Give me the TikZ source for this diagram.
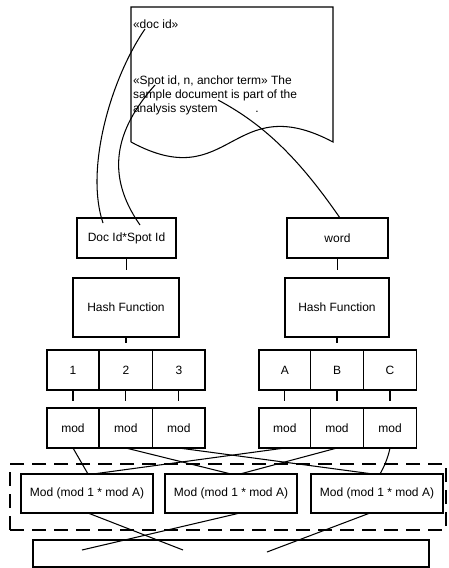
\documentclass[tikz,border=0pt]{standalone}
\usepackage{fontspec}
\setmainfont{Liberation Sans}
\begin{document}
\begin{tikzpicture}[x=1pt,y=-1pt,line width=1.05pt,
  every node/.style={font=\fontsize{12}{14}\selectfont, inner sep=0pt, outer sep=0pt},
  box/.style={draw, rectangle},
  cell/.style={draw, rectangle, minimum height=40pt},
  combo/.style={draw, rectangle, minimum width=132pt, minimum height=39pt},
  frame/.style={draw, rectangle, dash pattern=on 14pt off 8pt}]
\useasboundingbox (0,0) rectangle (449,568);

% source document with wavy lower edge
\draw (131,142) -- (131,7) -- (333,7) -- (333,142)
      .. controls (231,88) and (231,196) .. (131,142);
\node[anchor=base west] (tdoc) at (133,28) {«doc id»};
\node[anchor=north west, align=left] (tspot) at (133,76)
  {«Spot id, n, anchor term» The\\sample document is part of the\\analysis system};
\node[anchor=base] (tdot) at (257,112) {.};

% keys
\node[box, minimum width=99pt, minimum height=40pt] (dockey) at (126.5,238) {Doc Id*Spot Id};
\node[box, minimum width=101pt, minimum height=40pt] (word) at (337.5,238) {word};

% hash functions
\node[box, minimum width=106pt, minimum height=59pt] (hashL) at (126,307.5) {Hash Function};
\node[box, minimum width=104pt, minimum height=59pt] (hashR) at (337,307.5) {Hash Function};

% hash outputs
\node[cell, minimum width=52pt]   (n1) at (73,370)     {1};
\node[cell, minimum width=53.7pt] (n2) at (125.85,370) {2};
\node[cell, minimum width=52.3pt] (n3) at (178.85,370) {3};
\node[cell, minimum width=51.7pt] (nA) at (284.85,370) {A};
\node[cell, minimum width=52.6pt] (nB) at (337,370)    {B};
\node[cell, minimum width=53.4pt] (nC) at (390,370)    {C};

% modulo cells
\node[cell, minimum width=52pt]   (m1) at (73,428)     {mod};
\node[cell, minimum width=53.7pt] (m2) at (125.85,428) {mod};
\node[cell, minimum width=52.3pt] (m3) at (178.85,428) {mod};
\node[cell, minimum width=51.7pt] (mA) at (284.85,428) {mod};
\node[cell, minimum width=52.6pt] (mB) at (337,428)    {mod};
\node[cell, minimum width=53.4pt] (mC) at (390,428)    {mod};

% combined group
\node[frame, minimum width=436pt, minimum height=66pt] (grp) at (228,497) {};
\node[combo] (M1) at (87,493.5)  {Mod (mod 1 * mod A)};
\node[combo] (M2) at (231,493.5) {Mod (mod 1 * mod A)};
\node[combo] (M3) at (377,493.5) {Mod (mod 1 * mod A)};

% result bar
\node[box, minimum width=396pt, minimum height=27pt] (sink) at (231,553.5) {};

% document fields to keys
\coordinate (d1) at (145,29);
\coordinate (d2) at (155,85);
\coordinate (d3) at (218,100);
\draw (d1) .. controls (110,80) and (85,170) .. ([xshift=-23.5pt,yshift=-5pt]dockey.north);
\draw (d2) .. controls (115,130) and (105,175) .. ([xshift=13.5pt,yshift=-7pt]dockey.north);
\draw (d3) .. controls (265,125) and (300,160) .. ([xshift=2.5pt]word.north);

% vertical ticks
\draw[shorten >=8pt] (dockey.south) -- (dockey.south |- hashL.north);
\draw[shorten >=8pt] (word.south) -- (word.south |- hashR.north);
\draw[shorten >=7pt] (hashL.south) -- (hashL.south |- n2.north);
\draw[shorten >=7pt] (hashR.south) -- (hashR.south |- nB.north);
\foreach \c in {1,2,3,A,B,C} {
  \draw[shorten >=7pt] (n\c.south) -- (m\c.north);
}

% modulo cells to combined cells
\draw (m1.south) -- ([xshift=1pt]M1.north);
\draw (m2.south) -- (M2.north);
\draw (m3.south) -- ([xshift=-4pt]M3.north);
\draw (mA.south) -- ([xshift=6pt]M1.north);
\draw (mB.south) -- ([xshift=9pt]M2.north);
\draw (mC.south) .. controls +(-2,10) and +(4,-7) .. ([xshift=3pt]M3.north);

% combined cells to result bar
\coordinate (s1) at (183,550);
\coordinate (s2) at (82,550);
\coordinate (s3) at (267,552);
\draw ([xshift=1pt]M1.south) -- (s1);
\draw ([xshift=9pt]M2.south) -- (s2);
\draw ([xshift=-7pt]M3.south) -- (s3);
\end{tikzpicture}
\end{document}
